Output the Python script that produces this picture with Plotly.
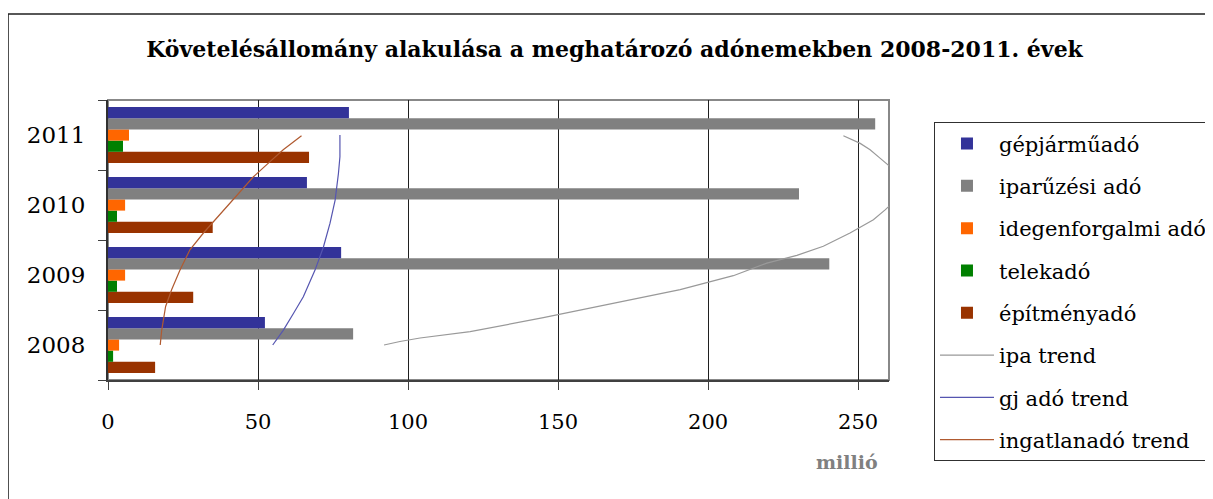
import plotly.graph_objects as go

years = ["2008", "2009", "2010", "2011"]
year_pos = [0, 1, 2, 3]

# millió Ft
gepjarmuado = [52.3, 77.7, 66.3, 80.3]
iparuzesi_ado = [81.7, 240.4, 230.3, 255.7]
idegenforgalmi_ado = [3.7, 5.7, 5.7, 7.0]
telekado = [1.7, 3.0, 3.0, 5.0]
epitmenyado = [15.7, 28.4, 34.9, 67.0]

# trend curves as drawn on the chart (value, year position)
ipa_trend_x = [92, 97.3, 104, 120.7, 145.1, 169.6, 190.7, 208.4, 219.6, 229.6, 238.4,
               247.3, 255.1, 259, 262, 265, 262, 257.3, 254, 250.7, 245.1]
ipa_trend_y = [0.0, 0.05, 0.10, 0.19, 0.39, 0.60, 0.79, 0.99, 1.17, 1.28, 1.41,
               1.60, 1.79, 1.93, 2.05, 2.27, 2.50, 2.67, 2.79, 2.88, 2.99]
gj_trend_x = [54.9, 58.4, 61.8, 65.1, 69.0, 71.8, 74.0, 75.7, 76.8, 77.3, 77.3]
gj_trend_y = [0.0, 0.21, 0.45, 0.69, 1.07, 1.40, 1.74, 2.07, 2.45, 2.69, 3.0]
ingatlan_trend_x = [17.4, 17.9, 19.2, 21.2, 24.0, 27.3, 31.8, 36.2, 41.8, 48.4, 54.0, 58.4, 64.5]
ingatlan_trend_y = [0.0, 0.21, 0.55, 0.79, 1.07, 1.36, 1.60, 1.81, 2.07, 2.40, 2.62, 2.79, 2.99]

FONT = "DejaVu Serif"

bars = [
    ("gépjárműadó", gepjarmuado, "#333399"),
    ("iparűzési adó", iparuzesi_ado, "#808080"),
    ("idegenforgalmi adó", idegenforgalmi_ado, "#FF6600"),
    ("telekadó", telekado, "#008000"),
    ("építményadó", epitmenyado, "#993300"),
]
trends = [
    ("ipa trend", ipa_trend_x, ipa_trend_y, "#999999"),
    ("gj adó trend", gj_trend_x, gj_trend_y, "#5555b0"),
    ("ingatlanadó trend", ingatlan_trend_x, ingatlan_trend_y, "#b05a30"),
]

fig = go.Figure()
# first trace sits lowest in a group, so add bars bottom-up
for rank, (name, vals, color) in reversed(list(enumerate(bars))):
    fig.add_trace(go.Bar(
        x=vals, y=year_pos, orientation="h", name=name,
        marker=dict(color=color, line=dict(width=0)),
        legendrank=rank + 1, legendgroup=name
    ))
for i, (name, xs, ys, color) in enumerate(trends):
    fig.add_trace(go.Scatter(
        x=xs, y=ys, mode="lines", name=name,
        line=dict(color=color, width=1.2),
        legendrank=10 + i, legendgroup=name
    ))

# outer frame and plot-area border
fig.add_shape(type="rect", xref="paper", yref="paper", x0=-0.128, x1=1.6, y0=-0.6, y1=1.307,
              line=dict(color="#202020", width=1.5), layer="below")
fig.add_shape(type="rect", xref="paper", yref="paper", x0=0, x1=1, y0=0, y1=1,
              line=dict(color="#888888", width=2), layer="below")

fig.add_annotation(text="<b>millió</b>", xref="paper", yref="paper", x=0.9885, y=-0.293,
                   xanchor="right", yanchor="middle", showarrow=False,
                   font=dict(family=FONT, size=19, color="#808080"))

fig.update_layout(
    width=1213, height=499,
    margin=dict(l=100, r=332, t=92, b=127, autoexpand=False),
    paper_bgcolor="white", plot_bgcolor="white",
    barmode="group", bargap=0.2, bargroupgap=0,
    font=dict(family=FONT, size=19, color="black"),
    title=dict(text="<b>Követelésállomány alakulása a meghatározó adónemekben 2008-2011. évek</b>",
               x=0.5, y=0.918, xanchor="center", yanchor="middle",
               font=dict(family=FONT, size=22, color="black")),
    showlegend=True,
    legend=dict(x=1.0576, y=0.92, xanchor="left", yanchor="top",
                bordercolor="#303030", borderwidth=1, bgcolor="white",
                traceorder="grouped", tracegroupgap=12, itemwidth=54,
                maxheight=420,
                font=dict(family=FONT, size=21, color="black")),
)
fig.update_xaxes(
    range=[0, 260.3], tickvals=[0, 50, 100, 150, 200, 250],
    showgrid=True, gridcolor="#202020", gridwidth=1,
    showline=True, linecolor="#404040", linewidth=2,
    ticks="outside", ticklen=8, tickcolor="#404040",
    ticklabelstandoff=14, zeroline=False,
    tickfont=dict(family=FONT, size=21)
)
fig.update_yaxes(
    range=[-0.5, 3.5], tickvals=year_pos, ticktext=years,
    showgrid=False, zeroline=False,
    showline=True, linecolor="#303030", linewidth=2,
    ticks="", ticklabelstandoff=16,
    minor=dict(tick0=-0.5, dtick=1, ticks="outside", ticklen=8, tickcolor="#404040"),
    tickfont=dict(family=FONT, size=23)
)

fig.write_html("out.html")
